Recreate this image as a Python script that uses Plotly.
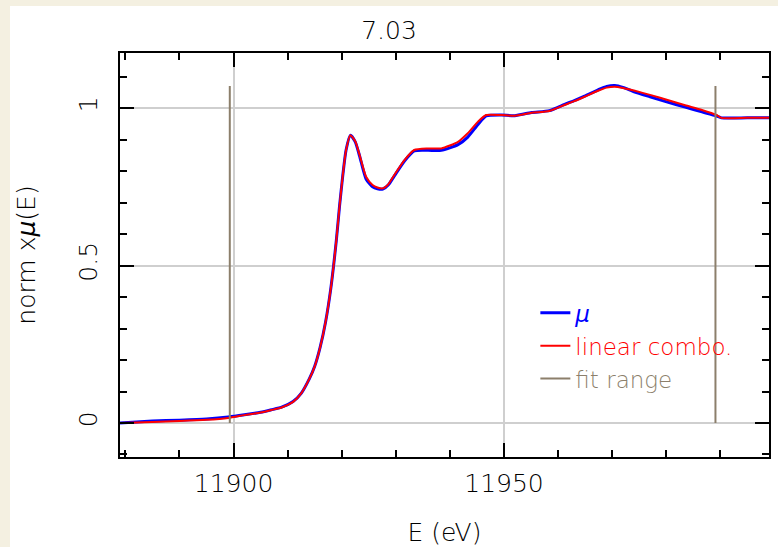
import plotly.graph_objects as go

# ---------------- data ----------------
energy = [11879, 11885, 11890, 11895, 11899, 11902, 11905, 11907, 11909, 11911, 11912.5, 11914,
          11915, 11916, 11917, 11918, 11919, 11919.6, 11920.2, 11920.8, 11921.6, 11922.5,
          11923.3, 11924.5, 11925.7, 11926.6, 11927.6, 11928.6, 11929.7, 11931.6, 11933.4, 11935.9, 11938.4,
          11941.5, 11943.3, 11945.2, 11946.7, 11949.5, 11952, 11955.1, 11958.4, 11961.2, 11963,
          11964.9, 11967.4, 11969, 11970.5, 11972, 11974.2, 11977, 11980.4, 11983.5, 11986.6, 11989.3,
          11990.2, 11995, 11999]

mu = [0.0, 0.006, 0.009, 0.013, 0.019, 0.026, 0.034, 0.042, 0.051, 0.068, 0.094, 0.14,
      0.18, 0.24, 0.32, 0.43, 0.58, 0.69, 0.787, 0.867, 0.914, 0.893,
      0.848, 0.775, 0.750, 0.744, 0.743, 0.756, 0.784, 0.832, 0.864, 0.866, 0.866,
      0.884, 0.908, 0.948, 0.975, 0.978, 0.976, 0.986, 0.992, 1.012, 1.024,
      1.038, 1.058, 1.069, 1.072, 1.066, 1.051, 1.036, 1.018, 1.003, 0.988, 0.975,
      0.969, 0.969, 0.969]

fit = [0.0, 0.003, 0.006, 0.010, 0.016, 0.025, 0.033, 0.041, 0.050, 0.067, 0.094, 0.14,
       0.18, 0.24, 0.32, 0.43, 0.58, 0.69, 0.787, 0.867, 0.914, 0.895,
       0.851, 0.782, 0.756, 0.748, 0.745, 0.758, 0.787, 0.835, 0.867, 0.872, 0.872,
       0.893, 0.920, 0.957, 0.978, 0.978, 0.976, 0.985, 0.991, 1.010, 1.022,
       1.036, 1.055, 1.065, 1.068, 1.064, 1.055, 1.042, 1.025, 1.009, 0.994, 0.978,
       0.969, 0.969, 0.969]

fit_range = [11899.3, 11989.1]
fit_range_height = [0.0, 1.07]

title_text = "7.03"
x_title = "E (eV)"
y_title = "norm x<i>μ</i>(E)"

# ---------------- styles ----------------
BLUE = "#0000ff"
RED = "#ff0000"
TAN = "#8c7f6b"
TXT = "#000000"
FONT = "DejaVu Sans"
W = 200

fig = go.Figure()

fr_x, fr_y = [], []
for xv in fit_range:
    fr_x += [xv, xv, None]
    fr_y += [fit_range_height[0], fit_range_height[1], None]

fig.add_trace(go.Scatter(
    x=energy, y=mu, mode="lines", line=dict(color=BLUE, width=3, shape="spline", smoothing=0.6),
    name=f"<span style='color:{BLUE}'><i>μ</i></span>"))
fig.add_trace(go.Scatter(
    x=energy, y=fit, mode="lines", line=dict(color=RED, width=2, shape="spline", smoothing=0.6),
    name=f"<span style='color:{RED}'>linear combo.</span>"))
fig.add_trace(go.Scatter(
    x=fr_x, y=fr_y, mode="lines", line=dict(color=TAN, width=2),
    name=f"<span style='color:{TAN}'>fit range</span>"))

# white panel on beige background
fig.add_shape(type="rect", xref="paper", yref="paper",
              x0=-0.1695, x1=1.02, y0=-0.23, y1=1.1163,
              fillcolor="white", line=dict(width=0), layer="below")

tfont = dict(family=FONT, size=25, color=TXT, weight=W)

axis_common = dict(
    showline=True, linecolor="black", linewidth=2, mirror="allticks",
    ticks="inside", tickcolor="black", tickwidth=2, ticklen=14,
    showgrid=True, gridcolor="#cfcfcf", gridwidth=1.5,
    zeroline=False, tickfont=tfont, automargin=False,
)

fig.update_xaxes(
    **axis_common, range=[11879, 11999], tick0=11900, dtick=50, tickformat="d",
    ticklabelstandoff=3,
    minor=dict(dtick=10, ticks="inside", ticklen=7, tickwidth=2, tickcolor="black", showgrid=False),
    title=dict(text=x_title, font=tfont, standoff=30),
)
fig.update_yaxes(
    **axis_common, range=[-0.108, 1.175], tick0=0, dtick=0.5, tickangle=-90,
    ticklabelstandoff=11,
    minor=dict(dtick=0.1, ticks="inside", ticklen=7, tickwidth=2, tickcolor="black", showgrid=False),
    title=dict(text=y_title, font=tfont, standoff=31),
)

fig.update_layout(
    width=778, height=547,
    margin=dict(l=120, r=9, t=53, b=90),
    paper_bgcolor="#f4f0e1", plot_bgcolor="white",
    title=dict(text=title_text, x=0.5, xanchor="center", y=1 - 30 / 547, yanchor="middle",
               font=tfont),
    showlegend=True,
    legend=dict(x=0.64, y=0.41, xanchor="left", yanchor="top",
                bgcolor="rgba(0,0,0,0)", font=dict(family=FONT, size=23, color=TXT, weight=W),
                itemwidth=30, tracegroupgap=0),
)

fig.write_html("out.html")
